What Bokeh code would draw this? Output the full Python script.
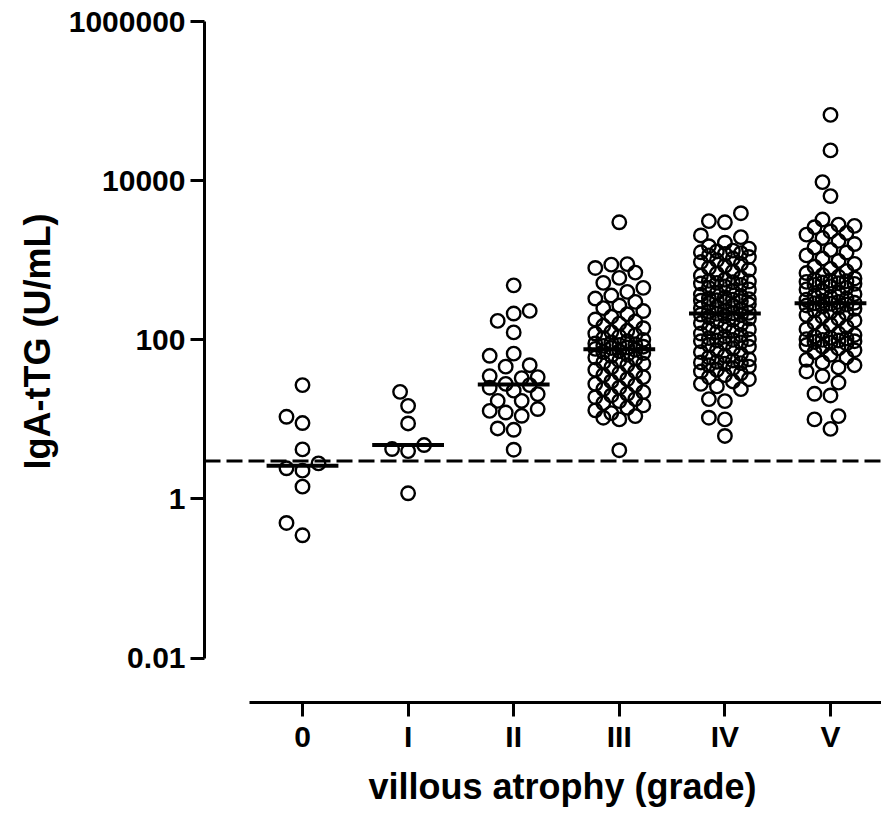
import numpy as np
from bokeh.plotting import figure
from bokeh.models import Range1d, FixedTicker, Span, Title, ColumnDataSource
from bokeh.embed import file_html
from bokeh.resources import INLINE

# ---------------- data ----------------
GRADES = ["0", "I", "II", "III", "IV", "V"]

grade_0 = [27, 10.8, 9, 4.2, 2.8, 2.27, 2.43, 1.43, 0.5, 0.35]
grade_I = [22.2, 14.8, 8.9, 4.76, 4.24, 4.0, 1.18]
grade_II = [484, 231, 214, 173, 124, 67, 63, 48, 46, 34, 35, 33, 27, 28, 23, 25,
            20.8, 17.1, 17.1, 12.2, 13.5, 12.8, 11.1, 7.7, 7.4, 4.16]
grade_III = [4.1, 10, 10.5, 11, 12, 13, 14, 15, 16, 17, 18, 19, 20, 21, 22, 24, 25,
             27, 28, 30, 32, 34, 36, 38, 40, 42, 45, 48, 50, 52, 55, 58, 60, 63, 65,
             68, 70, 72, 75, 77, 79, 80, 82, 84, 86, 88, 90, 93, 96, 100, 105, 110,
             115, 120, 125, 130, 140, 150, 160, 170, 180, 195, 210, 230, 250, 270,
             300, 330, 360, 400, 450, 520, 600, 700, 800, 880, 895, 3000]
grade_IV = [6.2, 10, 10.5, 17, 18, 24, 26, 28, 30, 32, 34, 36, 38, 40, 42, 44, 46,
            48, 50, 51, 52, 53, 55, 57, 60, 63, 66, 70, 74, 78, 82, 86, 90, 93, 96,
            98, 100, 102, 105, 110, 115, 120, 125, 130, 135, 140, 148, 155, 162, 170,
            178, 185, 192, 198, 204, 208, 212, 215, 218, 225, 232, 240, 250, 260, 270,
            280, 290, 300, 305, 310, 315, 320, 325, 330, 340, 355, 370, 390, 410, 430,
            450, 470, 490, 510, 520, 530, 540, 550, 570, 600, 640, 680, 720, 760, 800,
            850, 900, 950, 1000, 1050, 1100, 1150, 1200, 1230, 1260, 1290, 1320, 1400,
            1500, 1660, 1950, 2050, 3000, 3100, 3900]
grade_V = [7.6, 10, 11, 20, 21, 29, 35, 40, 45, 48, 52, 56, 60, 65, 70, 74, 78, 82,
           86, 90, 92, 94, 96, 98, 100, 102, 104, 106, 110, 115, 120, 128, 136, 145,
           155, 165, 175, 185, 195, 205, 215, 225, 235, 245, 255, 262, 270, 277, 284,
           288, 292, 300, 310, 320, 330, 345, 360, 375, 390, 410, 430, 450, 470, 490,
           505, 515, 525, 535, 545, 555, 570, 590, 620, 650, 690, 730, 780, 830, 900,
           980, 1050, 1150, 1250, 1350, 1450, 1600, 1750, 1900, 2100, 2200, 2300,
           2600, 2700, 2800, 3250, 6400, 9600, 24000, 67000]

GROUP_VALUES = [grade_0, grade_I, grade_II, grade_III, grade_IV, grade_V]

CUTOFF = 3.0
Y_TICKS = [0.01, 1, 100, 10000, 1000000]
Y_TICK_LABELS = ["0.01", "1", "100", "10000", "1000000"]
X_TITLE = "villous atrophy (grade)"
Y_TITLE = "IgA-tTG (U/mL)"

# ---------------- geometry ----------------
W, H = 881, 814
ML, MT, MR, MB = 204, 21, 0, 111
FW, FH = W - ML - MR, H - MT - MB
PX_PER_CAT = 105.6          # pixels between category centres
X0 = -0.928
X1 = X0 + FW / PX_PER_CAT
PX_PER_DEC = 79.7           # pixels per decade on the log axis
Y1 = 1e6
Y0 = 10 ** (6 - FH / PX_PER_DEC)

FONT = "Liberation Sans"


def swarm(vals, step=8.0, min_d=15.0, max_off=24.0):
    """Beeswarm offsets (in pixels) for a list of values on the log axis."""
    ys = np.log10(np.asarray(vals, dtype=float)) * PX_PER_DEC
    order = np.argsort(ys)
    cands = [0.0]
    k = 1
    while k * step <= max_off + 1e-9:
        cands += [-k * step, k * step]
        k += 1
    placed = []
    offs = np.zeros(len(vals))
    for i in order:
        best, bestd = 0.0, -1.0
        for c in cands:
            if placed:
                d = min(np.hypot(c - px, ys[i] - py) for px, py in placed)
            else:
                d = np.inf
            if d >= min_d:
                best = c
                break
            if d > bestd:
                bestd, best = d, c
        offs[i] = best
        placed.append((best, ys[i]))
    return offs


p = figure(width=W, height=H, x_range=Range1d(X0, X1), y_range=Range1d(Y0, Y1),
           y_axis_type="log", output_backend="svg", toolbar_location=None,
           min_border_left=ML, min_border_top=MT, min_border_right=MR,
           min_border_bottom=MB)
p.xgrid.visible = False
p.ygrid.visible = False
p.outline_line_color = None
p.background_fill_color = "white"
p.border_fill_color = "white"

xs, ys = [], []
for gi, vals in enumerate(GROUP_VALUES):
    offs = swarm(vals)
    xs += list(gi + offs / PX_PER_CAT)
    ys += list(vals)
src = ColumnDataSource(dict(x=xs, y=ys))

p.add_layout(Span(location=CUTOFF, dimension="width", line_color="black",
                  line_width=3, line_dash="16 6"))

p.scatter("x", "y", source=src, marker="circle", size=13.5, line_width=2.4,
          line_color="black", fill_color=None)

meds = [float(np.median(v)) for v in GROUP_VALUES]
pos = np.arange(len(GRADES))
p.segment(x0=pos - 0.34, x1=pos + 0.34, y0=meds, y1=meds,
          line_color="black", line_width=4)

# axes
xa = p.xaxis[0]
ya = p.yaxis[0]
xa.ticker = FixedTicker(ticks=list(range(len(GRADES))))
xa.major_label_overrides = {i: g for i, g in enumerate(GRADES)}
xa.bounds = (-0.5, X1)
xa.major_label_standoff = 3

ya.ticker = FixedTicker(ticks=Y_TICKS)
ya.major_label_overrides = {t: s for t, s in zip(Y_TICKS, Y_TICK_LABELS)}
ya.bounds = (Y_TICKS[0], Y_TICKS[-1])
ya.major_label_standoff = 5

for ax in (xa, ya):
    ax.axis_line_color = "black"
    ax.axis_line_width = 3
    ax.major_tick_line_color = "black"
    ax.major_tick_line_width = 3
    ax.major_tick_out = 14
    ax.major_tick_in = 0
    ax.minor_tick_line_color = None
    ax.major_label_text_font = FONT
    ax.major_label_text_font_style = "bold"
    ax.major_label_text_font_size = "30px"
    ax.major_label_text_color = "black"

# axis titles (placed as side titles so they can be centred on the axis lines)
p.add_layout(Title(text=X_TITLE, align="left", offset=164, text_font=FONT,
                   text_font_style="bold", text_font_size="36px",
                   text_color="black", standoff=16), "below")
p.add_layout(Title(text=Y_TITLE, align="left", offset=233, text_font=FONT,
                   text_font_style="bold", text_font_size="36px",
                   text_color="black", standoff=16), "left")

open("out.html", "w").write(file_html(p, INLINE))
